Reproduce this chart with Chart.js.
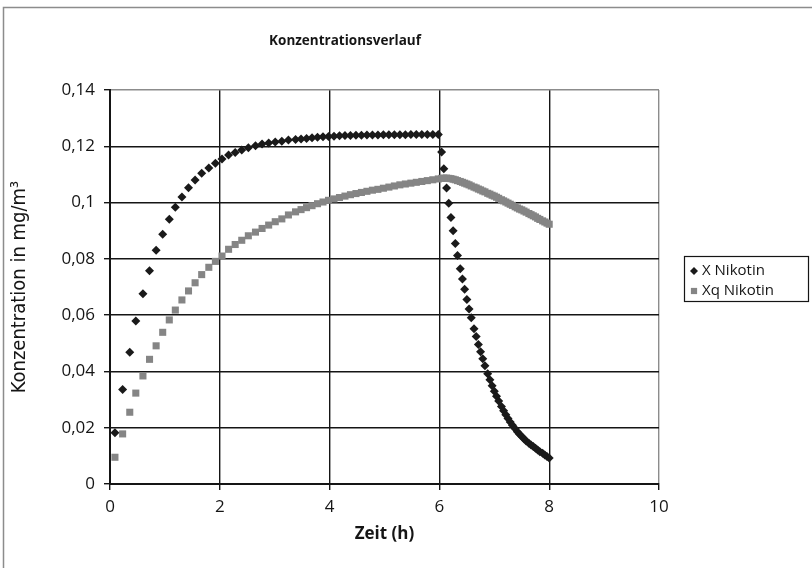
<!DOCTYPE html>
<html><head><meta charset="utf-8">
<script src="https://cdn.jsdelivr.net/npm/chart.js@4.4.1/dist/chart.umd.min.js"></script>
<style>html,body{margin:0;padding:0;background:#fff}canvas{display:block}</style>
</head><body>
<canvas id="c" width="812" height="568"></canvas>
<script>
const chartTitle = 'Konzentrationsverlauf';
const xAxisTitle = 'Zeit (h)';
const yAxisTitle = 'Konzentration in mg/m³';
const seriesNames = ['X Nikotin', 'Xq Nikotin'];

const timeH = [
  0.09,0.23,0.36,0.47,0.60,0.72,0.84,0.96,1.08,1.19,1.31,1.43,1.55,1.67,1.80,1.92,2.04,2.16,2.28,2.40,2.52,2.65,2.77,2.89,3.01,3.13,3.25,3.38,
  3.48,3.58,3.68,3.78,3.88,3.98,4.08,4.18,4.28,4.38,4.48,4.58,4.68,4.78,4.88,4.98,5.08,5.18,5.28,5.38,5.48,5.58,5.68,5.78,5.88,5.98,
  6.04,6.08,6.13,6.17,6.21,6.25,6.29,6.33,6.38,6.42,6.46,6.50,6.54,6.58,6.63,6.67,6.71,6.75,6.79,6.83,6.88,6.92,6.96,7.00,
  7.04,7.08,7.13,7.17,7.21,7.25,7.29,7.33,7.38,7.42,7.46,7.50,7.54,7.58,7.63,7.67,7.71,7.75,7.79,7.83,7.88,7.92,7.96,8.00
];
const xNikotin = [
  0.0182,0.0336,0.0468,0.0579,0.0676,0.0758,0.0831,0.0887,0.0941,0.0983,0.1020,0.1053,0.1080,0.1104,0.1123,0.1140,0.1155,0.1169,0.1178,0.1187,0.1195,0.1202,0.1208,0.1212,0.1215,0.1218,0.1222,0.1224,
  0.1226,0.1228,0.1230,0.1232,0.1234,0.1235,0.1236,0.1237,0.1238,0.1238,0.1239,0.1239,0.1240,0.1240,0.1240,0.1241,0.1241,0.1241,0.1241,0.1241,0.1242,0.1242,0.1242,0.1242,0.1242,0.1242,
  0.1180,0.1120,0.1052,0.0998,0.0947,0.0900,0.0855,0.0812,0.0765,0.0728,0.0692,0.0656,0.0622,0.0591,0.0552,0.0524,0.0496,0.0470,0.0445,0.0420,0.0392,0.0370,0.0349,0.0330,
  0.0312,0.0295,0.0275,0.0260,0.0246,0.0233,0.0220,0.0209,0.0196,0.0186,0.0177,0.0169,0.0161,0.0153,0.0145,0.0139,0.0133,0.0127,0.0121,0.0115,0.0109,0.0103,0.0098,0.0092
];
const xqNikotin = [
  0.0095,0.0178,0.0255,0.0323,0.0384,0.0443,0.0491,0.0539,0.0583,0.0618,0.0654,0.0686,0.0715,0.0744,0.0770,0.0791,0.0810,0.0834,0.0851,0.0866,0.0882,0.0895,0.0908,0.0920,0.0932,0.0942,0.0956,0.0967,
  0.0975,0.0982,0.0989,0.0996,0.1002,0.1008,0.1013,0.1018,0.1023,0.1028,0.1032,0.1036,0.1040,0.1044,0.1047,0.1051,0.1055,0.1059,0.1063,0.1066,0.1069,0.1072,0.1075,0.1078,0.1081,0.1084,
  0.1086,0.1087,0.1087,0.1086,0.1085,0.1083,0.1081,0.1078,0.1075,0.1072,0.1069,0.1066,0.1063,0.1059,0.1055,0.1052,0.1048,0.1045,0.1041,0.1038,0.1033,0.1030,0.1026,0.1023,
  0.1019,0.1015,0.1010,0.1006,0.1002,0.0998,0.0994,0.0990,0.0985,0.0981,0.0977,0.0974,0.0970,0.0966,0.0961,0.0957,0.0953,0.0949,0.0944,0.0940,0.0935,0.0931,0.0927,0.0923
];
const xTicks = [0, 2, 4, 6, 8, 10];
const yTicks = [0, 0.02, 0.04, 0.06, 0.08, 0.1, 0.12, 0.14];

const FONT = "'Open Sans', 'Noto Sans', 'DejaVu Sans', sans-serif";
const INK = '#151515';
const FRAME = '#8c8c8c';

const toPts = (xs, ys) => xs.map((x, i) => ({ x: x, y: ys[i] }));
const fmtY = v => String(Number(v.toFixed(2))).replace('.', ',');

const framePlugin = {
  id: 'frameAndTitle',
  beforeDraw(chart) {
    const ctx = chart.ctx;
    ctx.save();
    ctx.fillStyle = '#fff';
    ctx.fillRect(0, 0, chart.width, chart.height);
    ctx.strokeStyle = FRAME;
    ctx.lineWidth = 1.5;
    ctx.strokeRect(3.5, 7.5, chart.width + 10, chart.height + 10);
    ctx.restore();
  },
  afterDraw(chart) {
    const ctx = chart.ctx;
    ctx.save();
    ctx.fillStyle = INK;
    ctx.font = "bold 13.5px " + FONT;
    ctx.textAlign = 'center';
    ctx.textBaseline = 'middle';
    ctx.fillText(chartTitle, 345, 41);
    const bx = 684, by = 256, bw = 124, bh = 45;
    ctx.fillStyle = '#fff';
    ctx.fillRect(bx, by, bw, bh);
    ctx.strokeStyle = INK;
    ctx.lineWidth = 1.2;
    ctx.strokeRect(bx + 0.5, by + 0.5, bw, bh);
    ctx.font = "15px " + FONT;
    ctx.textAlign = 'left';
    chart.data.datasets.forEach((ds, i) => {
      const cy = by + 15 + i * 20;
      ctx.fillStyle = ds.backgroundColor;
      Chart.helpers.drawPoint(ctx, { pointStyle: ds.pointStyle, radius: i === 0 ? 4 : 4.4, rotation: 0, borderWidth: 0 }, bx + 10, cy);
      ctx.fillStyle = INK;
      ctx.fillText(ds.label, bx + 18, cy);
    });
    ctx.restore();
  }
};

new Chart(document.getElementById('c'), {
  type: 'scatter',
  data: {
    datasets: [
      { label: seriesNames[0], data: toPts(timeH, xNikotin), pointStyle: 'rectRot', pointRadius: 4.5,
        backgroundColor: '#1a1a1a', borderColor: '#1a1a1a', pointBorderWidth: 0 },
      { label: seriesNames[1], data: toPts(timeH, xqNikotin), pointStyle: 'rect', pointRadius: 5,
        backgroundColor: '#858585', borderColor: '#858585', pointBorderWidth: 0 }
    ]
  },
  options: {
    responsive: false,
    animation: false,
    devicePixelRatio: 1,
    layout: { padding: { left: 0, right: 153, top: 90, bottom: 0 } },
    plugins: { legend: { display: false }, tooltip: { enabled: false }, title: { display: false } },
    scales: {
      x: {
        type: 'linear', min: 0, max: 10,
        afterBuildTicks: s => { s.ticks = xTicks.map(v => ({ value: v })); },
        afterFit: s => { s.height = 84; },
        grid: { color: c => (c.tick && c.tick.value === 10) ? FRAME : INK, lineWidth: 1.4,
                tickLength: 6, tickColor: INK, tickWidth: 1.4 },
        border: { color: INK, width: 2 },
        ticks: { color: INK, font: { family: FONT, size: 17 }, padding: 7, maxRotation: 0 },
        title: { display: true, text: xAxisTitle, color: INK, font: { family: FONT, size: 17, weight: 'bold' },
                 padding: { top: 0, bottom: 24 } }
      },
      y: {
        type: 'linear', min: 0, max: 0.14,
        afterBuildTicks: s => { s.ticks = yTicks.map(v => ({ value: v })); },
        afterFit: s => { s.width = 110; },
        grid: { color: c => (c.tick && Math.abs(c.tick.value - 0.14) < 1e-9) ? FRAME : INK, lineWidth: 1.4,
                tickLength: 6, tickColor: INK, tickWidth: 1.4 },
        border: { color: INK, width: 2 },
        ticks: { color: INK, font: { family: FONT, size: 17 }, padding: 9, callback: v => fmtY(v) },
        title: { display: true, text: yAxisTitle, color: INK,
                 font: { family: "'DejaVu Sans Condensed', 'DejaVu Sans', sans-serif", size: 20 },
                 padding: { top: 8, bottom: 0 } }
      }
    }
  },
  plugins: [framePlugin]
});
</script>
</body></html>
